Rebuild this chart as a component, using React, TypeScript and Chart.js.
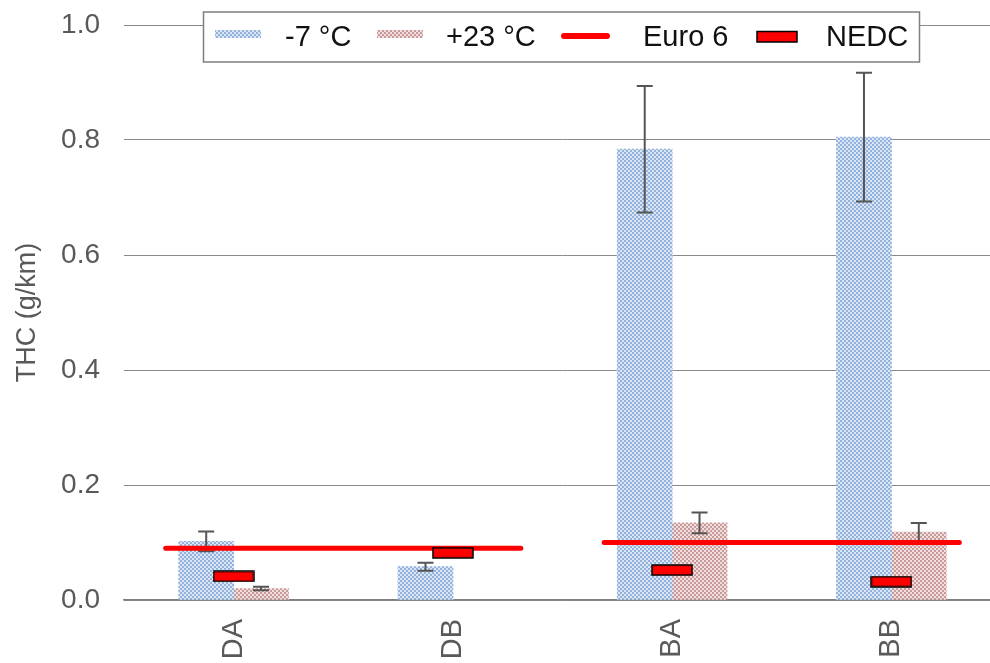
import React, { useEffect, useRef } from 'react';
import { Chart, registerables } from 'chart.js';

Chart.register(...registerables);

// Vehicle groups on the category axis
const categories = ['DA', 'DB', 'BA', 'BB'];

// THC emissions (g/km) at -7 °C and +23 °C, with their spread
const coldValues = [0.102, 0.058, 0.784, 0.805];
const coldErrors = [0.017, 0.007, 0.11, 0.112];
const warmValues: (number | null)[] = [0.02, null, 0.134, 0.118];
const warmErrors: (number | null)[] = [0.003, null, 0.018, 0.016];

// NEDC type-approval values
const nedcValues = [0.041, 0.082, 0.052, 0.032];

// Euro 6 limit segments (diesel pair, petrol pair) on a category-index axis
const euroX = [-0.31, 1.31, 1.5, 1.69, 3.31];
const euroY: (number | null)[] = [0.09, 0.09, null, 0.1, 0.1];

// Value axis ticks
const yTicks = [0, 0.2, 0.4, 0.6, 0.8, 1.0];

const FONT = '"Liberation Sans", Arial, sans-serif';
const GREY_TEXT = '#595959';
const RED = '#ff0000';

// The two temperature bars sit side by side, each a quarter of a category wide
const GROUP_SHIFT = 0.125;
const BAR_PX = 55;

function makeChecker(ctx: CanvasRenderingContext2D, dark: string, light: string): CanvasPattern {
  const tile = document.createElement('canvas');
  tile.width = 4;
  tile.height = 4;
  const g = tile.getContext('2d')!;
  g.fillStyle = light;
  g.fillRect(0, 0, 4, 4);
  g.fillStyle = dark;
  g.fillRect(0, 0, 2, 2);
  g.fillRect(2, 2, 2, 2);
  return ctx.createPattern(tile, 'repeat')!;
}

function makeNedcMarker(): HTMLCanvasElement {
  const c = document.createElement('canvas');
  c.width = 42;
  c.height = 12;
  const g = c.getContext('2d')!;
  g.fillStyle = RED;
  g.fillRect(1, 1, 40, 10);
  g.strokeStyle = '#000';
  g.lineWidth = 1.5;
  g.strokeRect(1, 1, 40, 10);
  return c;
}

// Vertical error bars with caps, drawn right after each bar dataset
const errorBarPlugin = {
  id: 'errorBars',
  afterDatasetDraw(chart: any, args: any) {
    const ds = chart.data.datasets[args.index];
    if (!ds.errors) return;
    const y = chart.scales.y;
    const ctx: CanvasRenderingContext2D = chart.ctx;
    ctx.save();
    ctx.strokeStyle = '#555555';
    ctx.lineWidth = 2;
    args.meta.data.forEach((bar: any, i: number) => {
      const v = ds.data[i]?.y;
      const e = ds.errors[i];
      if (v == null || e == null) return;
      const x = bar.x;
      const top = y.getPixelForValue(v + e);
      const bot = y.getPixelForValue(v - e);
      ctx.beginPath();
      ctx.moveTo(x, top);
      ctx.lineTo(x, bot);
      ctx.moveTo(x - 8, top);
      ctx.lineTo(x + 8, top);
      ctx.moveTo(x - 8, bot);
      ctx.lineTo(x + 8, bot);
      ctx.stroke();
    });
    ctx.restore();
  },
};

// Boxed legend sitting inside the plot area
const boxedLegendPlugin = {
  id: 'boxedLegend',
  afterDraw(chart: any) {
    const ctx: CanvasRenderingContext2D = chart.ctx;
    const sets = chart.data.datasets;
    ctx.save();
    ctx.fillStyle = '#ffffff';
    ctx.fillRect(203.5, 12, 716, 50);
    ctx.strokeStyle = '#7f7f7f';
    ctx.lineWidth = 1.5;
    ctx.strokeRect(203.5, 12, 716, 50);

    // swatches
    ctx.fillStyle = sets[0].backgroundColor;
    ctx.fillRect(215, 30, 46, 8);
    ctx.fillStyle = sets[1].backgroundColor;
    ctx.fillRect(377, 30, 46, 8);

    ctx.strokeStyle = RED;
    ctx.lineWidth = 6;
    ctx.lineCap = 'round';
    ctx.beginPath();
    ctx.moveTo(564, 36);
    ctx.lineTo(607, 36);
    ctx.stroke();

    ctx.fillStyle = RED;
    ctx.fillRect(757, 31.5, 40, 10.5);
    ctx.strokeStyle = '#000';
    ctx.lineWidth = 1.5;
    ctx.lineCap = 'butt';
    ctx.strokeRect(757, 31.5, 40, 10.5);

    ctx.fillStyle = '#111111';
    ctx.font = `29px ${FONT}`;
    ctx.textBaseline = 'alphabetic';
    ctx.textAlign = 'left';
    ctx.fillText(sets[0].label, 285, 46);
    ctx.fillText(sets[1].label, 446, 46);
    ctx.fillText(sets[2].label, 643, 46);
    ctx.fillText(sets[3].label, 826, 46);
    ctx.restore();
  },
};

export default function App() {
  const canvasRef = useRef<HTMLCanvasElement | null>(null);

  useEffect(() => {
    const canvas = canvasRef.current;
    if (!canvas) return;
    const ctx = canvas.getContext('2d')!;
    const bluePattern = makeChecker(ctx, '#93b2dc', '#dbe6f4');
    const redPattern = makeChecker(ctx, '#c99a9a', '#f1dede');
    const nedcMarker = makeNedcMarker();

    const chart = new Chart(canvas, {
      type: 'bar',
      data: {
        labels: categories,
        datasets: [
          {
            type: 'bar',
            label: '-7 °C',
            xAxisID: 'x2',
            data: coldValues.map((v, i) => ({ x: i - GROUP_SHIFT, y: v })),
            backgroundColor: bluePattern,
            borderWidth: 0,
            grouped: false,
            barThickness: BAR_PX,
            order: 3,
            errors: coldErrors,
          } as any,
          {
            type: 'bar',
            label: '+23 °C',
            xAxisID: 'x2',
            data: warmValues.map((v, i) => ({ x: i + GROUP_SHIFT, y: v })),
            backgroundColor: redPattern,
            borderWidth: 0,
            grouped: false,
            barThickness: BAR_PX,
            order: 3,
            errors: warmErrors,
          } as any,
          {
            type: 'line',
            label: 'Euro 6',
            xAxisID: 'x2',
            data: euroX.map((x, i) => ({ x, y: euroY[i] })),
            borderColor: RED,
            borderWidth: 5,
            borderCapStyle: 'round',
            pointRadius: 0,
            spanGaps: false,
            order: 2,
          } as any,
          {
            type: 'line',
            label: 'NEDC',
            xAxisID: 'x2',
            data: nedcValues.map((v, i) => ({ x: i, y: v })),
            showLine: false,
            pointStyle: nedcMarker,
            pointRadius: 6,
            order: 1,
          } as any,
        ],
      },
      options: {
        animation: false,
        responsive: true,
        maintainAspectRatio: false,
        layout: { padding: { top: 25, left: 0, right: 0, bottom: 0 } },
        plugins: {
          legend: { display: false },
          tooltip: { enabled: false },
        },
        scales: {
          x: {
            type: 'category',
            offset: true,
            grid: { display: false },
            border: { display: true, color: '#808080', width: 1.5 },
            ticks: {
              minRotation: 90,
              maxRotation: 90,
              padding: 11,
              color: GREY_TEXT,
              font: { family: FONT, size: 29 },
            },
            afterFit: (s: any) => {
              s.height = 63;
              s.paddingLeft = 0;
              s.paddingRight = 0;
            },
          },
          x2: {
            type: 'linear',
            display: false,
            min: -0.5,
            max: 3.5,
            offset: false,
          },
          y: {
            type: 'linear',
            min: 0,
            max: 1,
            afterBuildTicks: (s: any) => {
              s.ticks = yTicks.map((v) => ({ value: v }));
            },
            ticks: {
              padding: 24,
              color: GREY_TEXT,
              font: { family: FONT, size: 28 },
              callback: (v: any) => Number(v).toFixed(1),
            },
            grid: { color: '#8a8a8a', lineWidth: 1, drawTicks: false },
            border: { display: false },
            title: {
              display: true,
              text: 'THC (g/km)',
              color: GREY_TEXT,
              font: { family: FONT, size: 27 },
              padding: { top: 11, bottom: 0 },
            },
            afterFit: (s: any) => {
              s.width = 124;
              s.paddingTop = 0;
              s.paddingBottom = 0;
            },
          },
        },
      } as any,
      plugins: [errorBarPlugin, boxedLegendPlugin],
    });

    return () => chart.destroy();
  }, []);

  return (
    <div
      style={{
        position: 'absolute',
        left: 0,
        top: 0,
        width: 990,
        height: 663,
        overflow: 'hidden',
        background: '#ffffff',
      }}
    >
      <div style={{ position: 'relative', width: 1008, height: 663 }}>
        <canvas ref={canvasRef} />
      </div>
    </div>
  );
}
